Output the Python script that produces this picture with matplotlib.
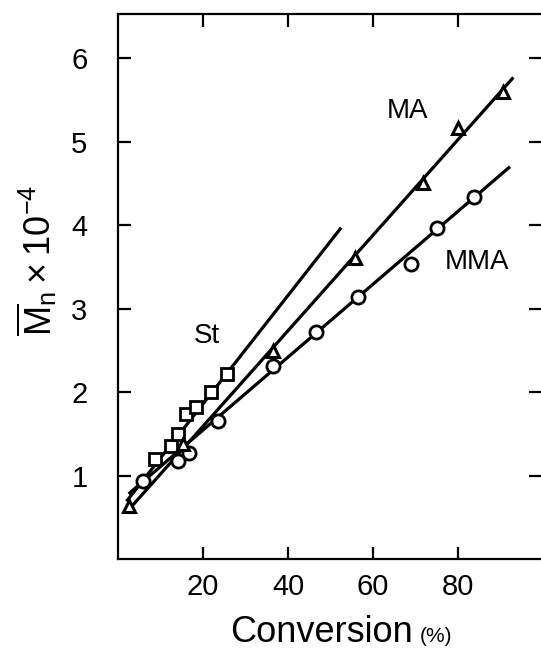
import matplotlib
matplotlib.use("Agg")
import matplotlib.pyplot as plt

plt.rcParams['font.family'] = ['Liberation Sans', 'DejaVu Sans']
plt.rcParams['mathtext.fontset'] = 'custom'
plt.rcParams['mathtext.rm'] = 'Liberation Sans'

# Measured points (conversion %, Mn x 1e-4)
st_conv = [8.7, 12.5, 14.1, 16.0, 18.4, 21.9, 25.6]
st_mn = [1.20, 1.35, 1.50, 1.74, 1.82, 2.00, 2.22]

ma_conv = [2.6, 15.3, 36.5, 55.8, 71.8, 80.0, 90.6]
ma_mn = [0.64, 1.38, 2.49, 3.61, 4.51, 5.16, 5.59]

mma_conv = [5.9, 14.1, 16.7, 23.5, 36.5, 46.6, 56.5, 69.0, 75.0, 83.8]
mma_mn = [0.94, 1.17, 1.27, 1.65, 2.31, 2.72, 3.14, 3.53, 3.96, 4.34]

# Straight-line fits, given by their end points
st_fit_x = [2.0, 52.5]
st_fit_y = [0.69, 3.97]
ma_fit_x = [2.0, 93.0]
ma_fit_y = [0.56, 5.77]
mma_fit_x = [2.5, 92.2]
mma_fit_y = [0.78, 4.70]

x_ticks = [20, 40, 60, 80]
y_ticks = [1, 2, 3, 4, 5, 6]

fig = plt.figure(figsize=(5.41, 6.53), dpi=100)
ax = fig.add_axes([0.2181, 0.1440, 0.7819, 0.8346])

lw = 2.3
for fx, fy in [(st_fit_x, st_fit_y), (ma_fit_x, ma_fit_y), (mma_fit_x, mma_fit_y)]:
    ax.plot(fx, fy, color='black', lw=lw, solid_capstyle='butt', zorder=2)

ax.plot(st_conv, st_mn, 's', ms=8, mfc='white', mec='black', mew=2.0, zorder=3)
ax.plot(mma_conv, mma_mn, 'o', ms=9.5, mfc='white', mec='black', mew=2.0, zorder=3)
ax.plot(ma_conv, ma_mn, '^', ms=9, mfc='white', mec='black', mew=2.2, zorder=4)

ax.text(68.2, 5.37, 'MA', fontsize=20, ha='center', va='center')
ax.text(84.5, 3.56, 'MMA', fontsize=20, ha='center', va='center')
ax.text(20.9, 2.67, 'St', fontsize=20, ha='center', va='center')

ax.set_xlim(0, 99.5)
ax.set_ylim(0, 6.53)
ax.set_xticks(x_ticks)
ax.set_yticks(y_ticks)

for s in ['left', 'bottom', 'top']:
    ax.spines[s].set_linewidth(1.6)
ax.spines['right'].set_visible(False)

ax.tick_params(direction='in', length=9, width=1.6, top=True, right=True,
               labelsize=21)
ax.tick_params(axis='x', pad=10)
ax.tick_params(axis='y', pad=22)

fig.text(0.068, 0.602, r'$\overline{\mathrm{M}}_{\mathrm{n}}\times 10^{-4}$',
         rotation=90, fontsize=26, ha='center', va='center')
fig.text(0.764, 0.017, 'Conversion', fontsize=26, ha='right', va='baseline')
fig.text(0.775, 0.017, '(%)', fontsize=15, ha='left', va='baseline')

fig.savefig('out.png', dpi=100)
